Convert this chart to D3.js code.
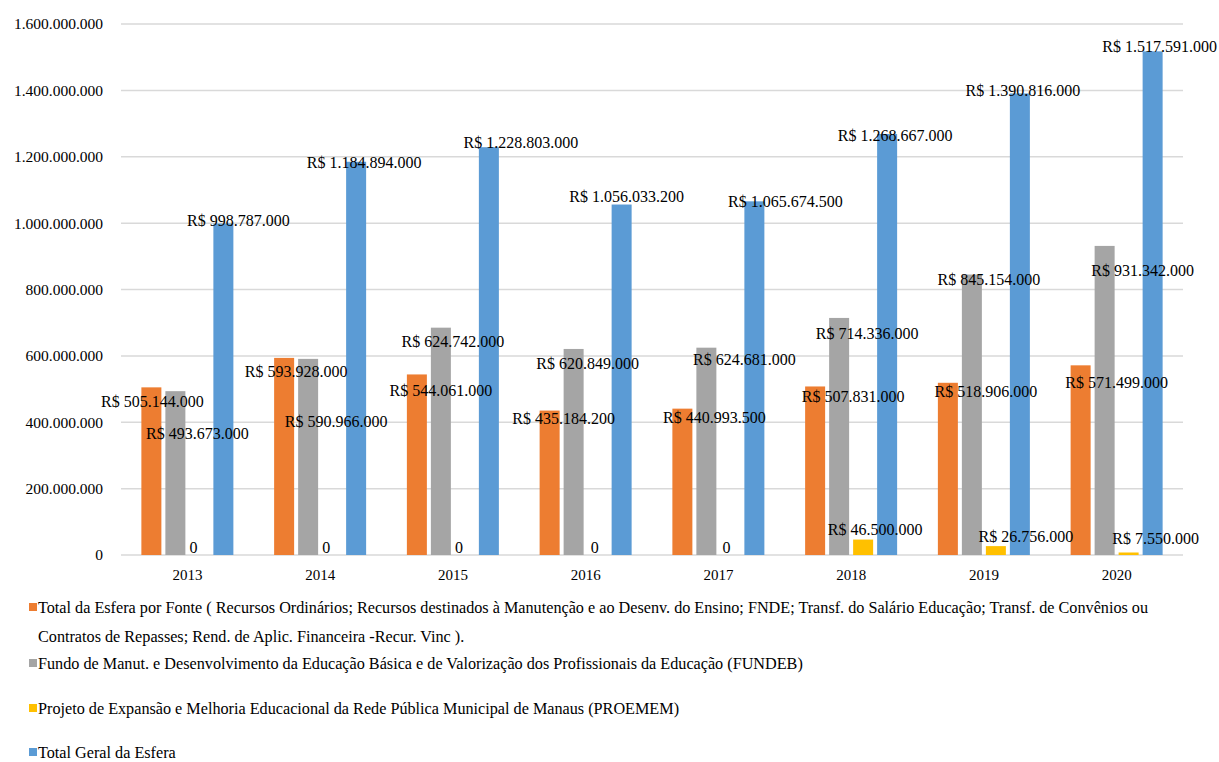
<!DOCTYPE html>
<html>
<head>
<meta charset="utf-8">
<script src="https://cdn.jsdelivr.net/npm/d3@7"></script>
<style>
  body { margin: 0; background: #fff; }
</style>
</head>
<body>
<svg id="chart" width="1219" height="762" font-family="'Liberation Serif', 'DejaVu Serif', serif"></svg>
<script>
// Categories (6th column reads 2018 in the original)
var years = ['2013', '2014', '2015', '2016', '2017', '2018', '2019', '2020'];

// Series values in R$
var totalPorFonte = [505144000, 593928000, 544061000, 435184200, 440993500, 507831000, 518906000, 571499000];
var fundeb        = [493673000, 590966000, 685000000, 620849000, 624681000, 714336000, 845154000, 931342000];
var proemem       = [0, 0, 0, 0, 0, 46500000, 26756000, 7550000];
var totalGeral    = [998787000, 1184894000, 1228803000, 1056033200, 1065674500, 1268667000, 1390816000, 1517591000];

// the 2015 FUNDEB bar is drawn taller than its printed label in the original
var fundebLabel2015 = 624742000;

var yTicks = [0, 200000000, 400000000, 600000000, 800000000, 1000000000, 1200000000, 1400000000, 1600000000];

var seriesNames = [
    'Total da Esfera por Fonte ( Recursos Ordinários; Recursos destinados à Manutenção e ao Desenv. do Ensino; FNDE; Transf. do Salário Educação; Transf. de Convênios ou|Contratos de Repasses; Rend. de Aplic. Financeira -Recur. Vinc ).',
    'Fundo de Manut. e Desenvolvimento da Educação Básica e de Valorização dos Profissionais da Educação (FUNDEB)',
    'Projeto de Expansão e Melhoria Educacional da Rede Pública Municipal de Manaus (PROEMEM)',
    'Total Geral da Esfera'
];
var colors = ['#ED7D31', '#A5A5A5', '#FFC000', '#5B9BD5'];

// manual label nudges (Excel labels were dragged around), [dx, dy] from bar top centre
var nudges = [
    [[1, 14], [12, 14], [24, 16], [14, 8], [32, 9], [38, 10], [38, 9], [36, 17]],
    [[22, 42], [28, 63], [12, 14], [14, 14], [38, 12], [28, 15], [17, 5], [38, 24]],
    [[-6, -8], [-6, -8], [-6, -8], [-3, -8], [-4, -8], [12, -10], [30, -10], [27, -14]],
    [[15, -3], [8, 1], [32, -5], [5, -8], [31, 0], [8, 1], [3, -3], [7, -5]]
];

var br = d3.formatLocale({decimal: ',', thousands: '.', grouping: [3], currency: ['R$ ', '']});
var fmtAxis = br.format(',.0f');
var fmtMoney = function(v) { return v === 0 ? '0' : 'R$ ' + br.format(',.0f')(v); };

var svg = d3.select('#chart');
var plot = {l: 121, r: 1183, t: 24, b: 555};

var yScale = d3.scaleLinear().domain([0, 1600000000]).range([plot.b, plot.t]);
var x0 = d3.scaleBand().domain(d3.range(years.length)).range([plot.l, plot.r]);
var x1 = d3.scaleBand().domain(d3.range(4)).range([0, 92]).paddingInner(4 / 24);
var groupOffset = (x0.bandwidth() - 92) / 2;

// gridlines
svg.append('g').selectAll('line')
    .data(yTicks)
    .enter().append('line')
    .attr('x1', plot.l).attr('x2', plot.r)
    .attr('y1', function(d) { return yScale(d); })
    .attr('y2', function(d) { return yScale(d); })
    .attr('stroke', '#d9d9d9')
    .attr('stroke-width', 1.5);

// y axis labels
svg.append('g').selectAll('text')
    .data(yTicks)
    .enter().append('text')
    .attr('x', 103)
    .attr('y', function(d) { return yScale(d); })
    .attr('dy', '0.35em')
    .attr('text-anchor', 'end')
    .attr('font-size', 15.5)
    .text(fmtAxis);

// x axis labels
svg.append('g').selectAll('text')
    .data(years)
    .enter().append('text')
    .attr('x', function(d, i) { return x0(i) + x0.bandwidth() / 2; })
    .attr('y', 575)
    .attr('dy', '0.35em')
    .attr('text-anchor', 'middle')
    .attr('font-size', 15)
    .text(function(d) { return d; });

var allSeries = [totalPorFonte, fundeb, proemem, totalGeral];

var rows = [];
allSeries.forEach(function(values, s) {
    values.forEach(function(v, i) {
        var label = v;
        if (s === 1 && i === 2) label = fundebLabel2015;
        rows.push({s: s, i: i, value: v, label: label});
    });
});

function barX(d) { return x0(d.i) + groupOffset + x1(d.s); }

svg.append('g').selectAll('rect')
    .data(rows.filter(function(d) { return d.value > 0; }))
    .enter().append('rect')
    .attr('x', barX)
    .attr('y', function(d) { return yScale(d.value); })
    .attr('width', x1.bandwidth())
    .attr('height', function(d) { return yScale(0) - yScale(d.value); })
    .attr('fill', function(d) { return colors[d.s]; });

svg.append('g').selectAll('text')
    .data(rows)
    .enter().append('text')
    .attr('x', function(d) { return barX(d) + x1.bandwidth() / 2 + nudges[d.s][d.i][0]; })
    .attr('y', function(d) { return yScale(d.value) + nudges[d.s][d.i][1]; })
    .attr('dy', '0.35em')
    .attr('text-anchor', 'middle')
    .attr('font-size', 16)
    .text(function(d) { return fmtMoney(d.label); });

// legend
var legendY = [[607, 636], [663], [708], [752]];
var legend = svg.append('g').selectAll('g')
    .data(seriesNames)
    .enter().append('g');

legend.append('rect')
    .attr('x', 29)
    .attr('y', function(d, i) { return legendY[i][0] - 4; })
    .attr('width', 8).attr('height', 8)
    .attr('fill', function(d, i) { return colors[i]; });

legend.each(function(d, i) {
    var lines = d.split('|');
    d3.select(this).selectAll('text')
        .data(lines)
        .enter().append('text')
        .attr('x', 38)
        .attr('y', function(t, k) { return legendY[i][k]; })
        .attr('dy', '0.35em')
        .attr('font-size', 16.2)
        .text(function(t) { return t; });
});
</script>
</body>
</html>
